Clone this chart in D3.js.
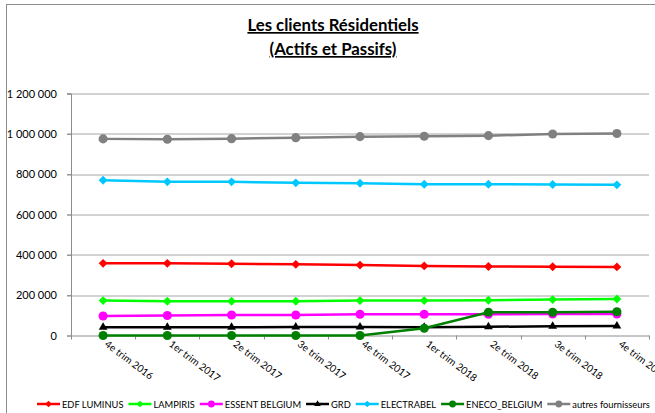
<!DOCTYPE html>
<html>
<head>
<meta charset="utf-8">
<script src="https://cdn.jsdelivr.net/npm/d3@7"></script>
<style>
  body { margin: 0; background: #fff; }
  svg text { font-family: Lato, "Liberation Sans", Arial, sans-serif; }
</style>
</head>
<body>
<div id="chart-area"></div>
<script>
// data
var quarters = ["4e trim 2016", "1er trim 2017", "2e trim 2017", "3e trim 2017", "4e trim 2017",
                "1er trim 2018", "2e trim 2018", "3e trim 2018", "4e trim 2018"];

var edfLuminus    = [358000, 358000, 356000, 353000, 349000, 345000, 342000, 341000, 340000];
var lampiris      = [173000, 170000, 170000, 170000, 173000, 173000, 175000, 178000, 181000];
var essentBelgium = [97000, 99000, 102000, 102000, 105000, 105000, 105000, 107000, 107000];
var grd           = [41000, 41000, 41000, 42000, 42000, 41000, 43000, 46000, 47000];
var electrabel    = [770000, 762000, 762000, 757000, 755000, 750000, 750000, 749000, 747000];
var enecoBelgium  = [0, 0, 0, 0, 0, 36000, 115000, 115000, 118000];
var autres        = [975000, 973000, 976000, 981000, 986000, 988000, 991000, 999000, 1002000];

var yTicks = [0, 200000, 400000, 600000, 800000, 1000000, 1200000];

var series = [
  {name: "EDF LUMINUS", values: edfLuminus, color: "#ff0000", marker: "diamond"},
  {name: "LAMPIRIS", values: lampiris, color: "#00ff00", marker: "diamond"},
  {name: "ESSENT BELGIUM", values: essentBelgium, color: "#ff00ff", marker: "circle"},
  {name: "GRD", values: grd, color: "#000000", marker: "triangle"},
  {name: "ELECTRABEL", values: electrabel, color: "#00c8ff", marker: "diamond"},
  {name: "ENECO_BELGIUM", values: enecoBelgium, color: "#008000", marker: "circle"},
  {name: "autres fournisseurs", values: autres, color: "#808080", marker: "circle"}
];

// layout
var W = 655, H = 413;
var margin = {left: 71, top: 93.5, right: 6, bottom: 77.5};
var width = W - margin.left - margin.right;
var height = H - margin.top - margin.bottom;

var svg = d3.select("#chart-area").append("svg")
    .attr("width", W).attr("height", H);

// outer chart border
svg.append("rect")
    .attr("x", 6.5).attr("y", 4.5)
    .attr("width", 700).attr("height", 500)
    .attr("fill", "none").attr("stroke", "#8c8c8c");

// title
var title = svg.append("text")
    .attr("x", 333).attr("y", 31)
    .attr("text-anchor", "middle")
    .attr("font-size", "16.8px")
    .attr("font-weight", "bold")
    .style("text-decoration", "underline");
title.append("tspan").attr("x", 333).attr("dy", 0).text("Les clients Résidentiels");
title.append("tspan").attr("x", 333).attr("dy", 24).text("(Actifs et Passifs)");

var g = svg.append("g")
    .attr("transform", "translate(" + margin.left + "," + margin.top + ")");

// scales
var x = d3.scaleBand().domain(quarters).range([0, width]);
var y = d3.scaleLinear().domain([0, 1200000]).range([height, 0]);

var fmt = function(d){ return d3.format(",")(d).replace(/,/g, " "); };

// gridlines
g.append("g").selectAll("line")
  .data(yTicks.filter(function(d){ return d > 0; }))
  .enter().append("line")
    .attr("x1", -4).attr("x2", width)
    .attr("y1", function(d){ return Math.round(y(d)) + 0.5; })
    .attr("y2", function(d){ return Math.round(y(d)) + 0.5; })
    .attr("stroke", "#a6a6a6").attr("stroke-width", 1);

// y axis
var leftAxis = d3.axisLeft(y).tickValues(yTicks).tickSize(4).tickFormat(fmt);
var yAxis = g.append("g").attr("class", "y-axis").call(leftAxis);
yAxis.select(".domain").attr("stroke", "#8c8c8c");
yAxis.selectAll(".tick line").attr("stroke", "#8c8c8c");
yAxis.selectAll("text")
    .attr("x", -14)
    .attr("font-size", "11px")
    .attr("fill", "#000")
    .style("font-family", "Lato, sans-serif");

// x axis
var bottomAxis = d3.axisBottom(x).tickSize(0).tickSizeOuter(0);
var xAxis = g.append("g").attr("class", "x-axis")
    .attr("transform", "translate(0," + height + ")")
    .call(bottomAxis);
xAxis.select(".domain").attr("stroke", "#8c8c8c");
xAxis.selectAll("text")
    .attr("font-size", "10px")
    .attr("fill", "#000")
    .attr("text-anchor", "start")
    .attr("x", 0).attr("y", 0).attr("dy", 0)
    .attr("transform", "translate(1,10) rotate(37)")
    .style("font-family", "Lato, sans-serif");

// category boundary ticks
g.append("g").selectAll("line")
  .data(d3.range(quarters.length + 1))
  .enter().append("line")
    .attr("x1", function(i){ return Math.round(i * x.step()) + 0.5; })
    .attr("x2", function(i){ return Math.round(i * x.step()) + 0.5; })
    .attr("y1", height).attr("y2", height + 4)
    .attr("stroke", "#8c8c8c");

// lines
var line = d3.line()
    .x(function(d, i){ return x(quarters[i]) + x.bandwidth() / 2; })
    .y(function(d){ return y(d); });

function markerPath(type) {
  if (type === "diamond") return d3.symbol().type(d3.symbolDiamond2).size(50)();
  if (type === "triangle") return d3.symbol().type(d3.symbolTriangle2).size(55)();
  return d3.symbol().type(d3.symbolCircle).size(65)();
}

series.forEach(function(s){
  var grp = g.append("g");
  grp.append("path")
    .datum(s.values)
    .attr("fill", "none")
    .attr("stroke", s.color)
    .attr("stroke-width", 2.5)
    .attr("d", line);
  grp.selectAll("path.marker")
    .data(s.values)
    .enter().append("path")
      .attr("class", "marker")
      .attr("d", markerPath(s.marker))
      .attr("fill", s.color)
      .attr("transform", function(d, i){
        return "translate(" + (x(quarters[i]) + x.bandwidth() / 2) + "," + y(d) + ")";
      });
});

// legend
var legend = svg.append("g").attr("transform", "translate(37,404)");
var lx = 0;
series.forEach(function(s){
  var row = legend.append("g").attr("transform", "translate(" + lx + ",0)");
  row.append("line")
    .attr("x1", 0).attr("x2", 23).attr("y1", 0).attr("y2", 0)
    .attr("stroke", s.color).attr("stroke-width", 2.5);
  row.append("path")
    .attr("d", markerPath(s.marker))
    .attr("transform", "translate(11.5,0) scale(0.75)")
    .attr("fill", s.color);
  var t = row.append("text")
    .attr("x", 25).attr("y", 3.5)
    .attr("font-size", "9.3px")
    .text(s.name);
  lx += 25 + t.node().getComputedTextLength() + 5;
});
</script>
</body>
</html>
